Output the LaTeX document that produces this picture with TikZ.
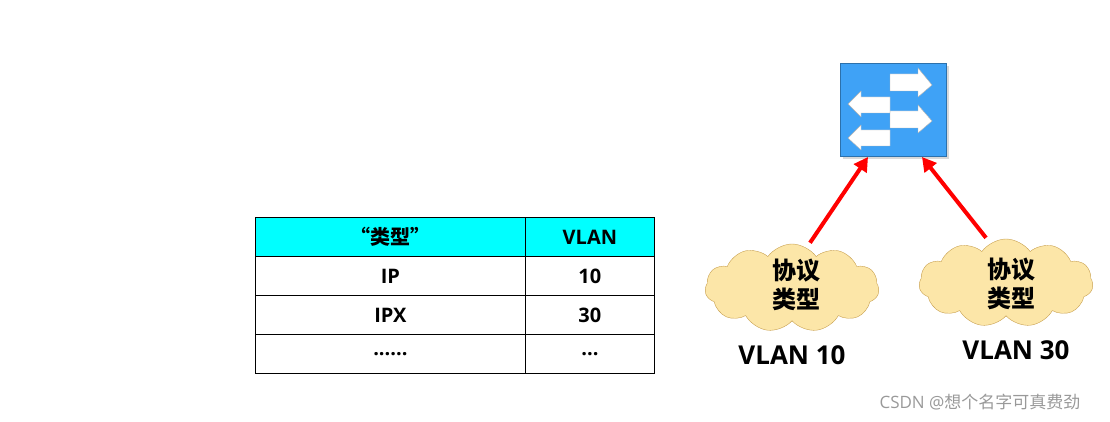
\documentclass[tikz,border=0pt]{standalone}
\usepackage{fontspec}
\setmainfont{Open Sans}
\newfontfamily\cjk{Noto Sans CJK SC}
\usetikzlibrary{shapes.symbols,arrows.meta,shadows}
\definecolor{swblue}{HTML}{3FA2F6}
\definecolor{cloudfill}{HTML}{FCE6A8}
\definecolor{cloudline}{HTML}{C8A050}
\definecolor{hdrcyan}{RGB}{0,255,255}
\definecolor{arrred}{RGB}{255,0,0}
\begin{document}
\begin{tikzpicture}[x=1pt,y=-1pt,
  cell/.style={draw=black,line width=0.8pt,minimum height=39pt,inner sep=0pt,font=\bfseries\fontsize{20}{24}\selectfont},
  cloudy/.style={cloud,cloud puffs=11,cloud puff arc=110,aspect=2,draw=cloudline,fill=cloudfill,inner sep=0pt,minimum width=174pt,minimum height=88pt},
  red arrow/.style={arrred,line width=4pt,-{Triangle[length=14pt,width=15pt]}},
  vlab/.style={font=\bfseries\fontsize{26}{30}\selectfont},
  warr/.style={fill=white,draw=gray!60,line width=0.4pt}]
\useasboundingbox (0,0) rectangle (1110,422);
% table
\node[cell,fill=hdrcyan,minimum width=270pt,anchor=north west] (h1) at (255,217) {{\cjk\bfseries “类型”}};
\node[cell,fill=hdrcyan,minimum width=129pt,anchor=north west] (h2) at (525,217) {VLAN};
\node[cell,minimum width=270pt,anchor=north west] (a1) at (255,256) {IP};
\node[cell,minimum width=129pt,anchor=north west] (a2) at (525,256) {10};
\node[cell,minimum width=270pt,anchor=north west] (b1) at (255,295) {IPX};
\node[cell,minimum width=129pt,anchor=north west] (b2) at (525,295) {30};
\node[cell,minimum width=270pt,anchor=north west] (c1) at (255,334) {......};
\node[cell,minimum width=129pt,anchor=north west] (c2) at (525,334) {...};
% switch
\node[draw=swblue!70!black,fill=swblue,minimum width=106pt,minimum height=93pt,inner sep=0pt,drop shadow={opacity=0.3}] (sw) at (893,109.5) {};
\draw[warr] (890,74) -- (918,74) -- (918,68) -- (932,85) -- (918,97) -- (918,91) -- (890,91) -- cycle;
\draw[warr] (890,111) -- (918,111) -- (918,105) -- (932,121) -- (918,133) -- (918,128) -- (890,128) -- cycle;
\draw[warr] (890,97) -- (861,97) -- (861,91) -- (848,104) -- (861,117) -- (861,113) -- (890,113) -- cycle;
\draw[warr] (890,130) -- (861,130) -- (861,125) -- (848,138) -- (861,150) -- (861,146) -- (890,146) -- cycle;
% clouds
\node[cloudy] (c10) at (792,288) {};
\node[font=\cjk\bfseries\fontsize{24}{29}\selectfont,align=center] (t10) at (796,285) {协议\\类型};
\node[cloudy] (c30) at (1006,283) {};
\node[font=\cjk\bfseries\fontsize{24}{29}\selectfont,align=center] (t30) at (1011,284) {协议\\类型};
\coordinate (s1) at (868,157);
\coordinate (s2) at (922,157);
\draw[red arrow] (c10.north) ++(18,-1) coordinate (e1) -- (s1);
\draw[red arrow] (c30.north) ++(-20,-1) coordinate (e2) -- (s2);
\node[vlab] (l10) at (792,355) {VLAN 10};
\node[vlab] (l30) at (1016,350) {VLAN 30};
\node[text=gray!80,font=\fontsize{17}{20}\selectfont] (wm) at (980,402) {CSDN @{\cjk 想个名字可真费劲}};
\end{tikzpicture}
\end{document}
